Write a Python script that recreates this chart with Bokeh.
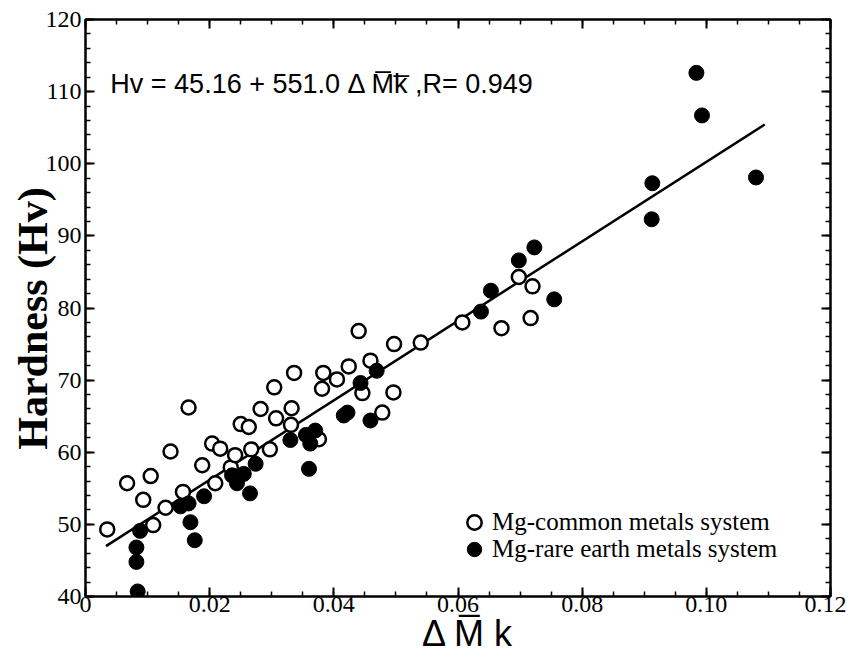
from bokeh.plotting import figure
from bokeh.models import (LinearAxis, SingleIntervalTicker, CustomJSTickFormatter,
                          Label, Legend, LegendItem, Range1d)
from bokeh.embed import file_html
from bokeh.resources import INLINE

# Mg-common metals system (open circles)
common_dmk = [0.0035, 0.0067, 0.0093, 0.0105, 0.0109, 0.0129, 0.0137, 0.0157, 0.0166,
              0.0188, 0.0204, 0.0209, 0.0217, 0.0234, 0.0241, 0.0250, 0.0263, 0.0267,
              0.0282, 0.0297, 0.0304, 0.0307, 0.0332, 0.0331, 0.0336, 0.0376, 0.0381,
              0.0383, 0.0405, 0.0424, 0.0440, 0.0446, 0.0459, 0.0478, 0.0496, 0.0497,
              0.0540, 0.0607, 0.0670, 0.0698, 0.0717, 0.0720]
common_hv = [49.3, 55.7, 53.4, 56.7, 49.9, 52.3, 60.1, 54.5, 66.2,
             58.2, 61.2, 55.7, 60.5, 57.9, 59.6, 63.9, 63.5, 60.4,
             66.0, 60.4, 69.0, 64.7, 66.1, 63.8, 71.0, 61.8, 68.8,
             71.0, 70.1, 71.9, 76.8, 68.2, 72.7, 65.5, 68.3, 75.0,
             75.2, 78.0, 77.2, 84.3, 78.6, 83.0]

# Mg-rare earth metals system (filled circles)
rare_dmk = [0.0082, 0.0082, 0.0084, 0.0088, 0.0153, 0.0166, 0.0169, 0.0176, 0.0191,
            0.0236, 0.0244, 0.0255, 0.0265, 0.0274, 0.0330, 0.0355, 0.0362, 0.0370,
            0.0360, 0.0416, 0.0422, 0.0443, 0.0459, 0.0469, 0.0637, 0.0653, 0.0698,
            0.0723, 0.0755, 0.0912, 0.0913, 0.0984, 0.0993, 0.1080]
rare_hv = [46.8, 44.8, 40.7, 49.1, 52.5, 52.9, 50.3, 47.8, 53.9,
           56.8, 55.7, 57.0, 54.3, 58.4, 61.7, 62.4, 61.2, 63.0,
           57.7, 65.1, 65.5, 69.6, 64.4, 71.3, 79.5, 82.4, 86.6,
           88.4, 81.2, 92.3, 97.3, 112.6, 106.7, 98.1]

# regression line Hv = 45.16 + 551.0 * dMk
fit_intercept = 45.16
fit_slope = 551.0
fit_dmk = [0.0033, 0.1094]
fit_hv = [fit_intercept + fit_slope * v for v in fit_dmk]

SERIF = "Liberation Serif"
SANS = "Liberation Sans"

p = figure(width=846, height=657, output_backend="svg", toolbar_location=None,
           x_range=Range1d(0, 0.12), y_range=Range1d(40, 120),
           min_border_left=85, min_border_right=16, min_border_top=19,
           min_border_bottom=61)
p.xgrid.visible = False
p.ygrid.visible = False
p.outline_line_color = "black"
p.outline_line_width = 2
p.background_fill_color = "white"
p.border_fill_color = "white"

xfmt = CustomJSTickFormatter(code="return tick < 1e-9 ? '0' : tick.toFixed(2);")
blank = CustomJSTickFormatter(code="return '';")


def style_axis(ax):
    ax.axis_line_color = "black"
    ax.axis_line_width = 2
    ax.major_tick_in = 9
    ax.major_tick_out = 0
    ax.minor_tick_in = 5
    ax.minor_tick_out = 0
    ax.major_tick_line_width = 2
    ax.minor_tick_line_width = 1.5
    ax.major_tick_line_color = "black"
    ax.minor_tick_line_color = "black"
    ax.major_label_text_font = SERIF
    ax.major_label_text_font_size = "24px"
    ax.major_label_text_color = "black"
    ax.axis_label_text_color = "black"


xa = p.xaxis[0]
xa.ticker = SingleIntervalTicker(interval=0.02, num_minor_ticks=4)
xa.formatter = xfmt
style_axis(xa)
xa.major_label_standoff = 0
xa.major_label_text_line_height = 0.9
xa.axis_label = "\u00a0\u00a0\u0394 M\u0305 k"
xa.axis_label_text_font = SANS
xa.axis_label_text_font_size = "36px"
xa.axis_label_text_font_style = "normal"
xa.axis_label_text_line_height = 0.9
xa.axis_label_standoff = -2

ya = p.yaxis[0]
ya.ticker = SingleIntervalTicker(interval=10, num_minor_ticks=5)
style_axis(ya)
ya.major_label_standoff = 4
ya.axis_label = "Hardness (Hv)\u00a0\u00a0"
ya.axis_label_text_font = SERIF
ya.axis_label_text_font_size = "42px"
ya.axis_label_text_font_style = "bold"
ya.axis_label_text_line_height = 0.9
ya.axis_label_standoff = -13

top = LinearAxis(ticker=SingleIntervalTicker(interval=0.02, num_minor_ticks=4),
                 formatter=blank)
style_axis(top)
top.major_label_standoff = 0
p.add_layout(top, "above")

right = LinearAxis(ticker=SingleIntervalTicker(interval=10, num_minor_ticks=5),
                   formatter=blank)
style_axis(right)
right.major_label_standoff = 0
p.add_layout(right, "right")

p.line(fit_dmk, fit_hv, line_color="black", line_width=2.5)
r_common = p.scatter(common_dmk, common_hv, marker="circle", size=14,
                     fill_color="white", line_color="black", line_width=2.5)
r_rare = p.scatter(rare_dmk, rare_hv, marker="circle", size=15,
                   fill_color="black", line_color="black", line_width=1)


def make_legend(label, renderer, loc):
    lg = Legend(items=[LegendItem(label=label, renderers=[renderer])], location=loc)
    lg.border_line_color = None
    lg.background_fill_alpha = 0
    lg.label_text_font = SERIF
    lg.label_text_font_size = "25px"
    lg.label_text_color = "black"
    lg.glyph_width = 36
    lg.glyph_height = 36
    lg.label_standoff = 0
    lg.spacing = 0
    lg.padding = 0
    lg.margin = 0
    return lg


p.add_layout(make_legend("Mg-common metals system", r_common, (371, 56)))
p.add_layout(make_legend("Mg-rare earth metals system", r_rare, (371, 29)))

eq = Label(x=0.004, y=111, text="Hv = 45.16 + 551.0 \u0394 M\u0305k\u0305 ,R= 0.949",
           text_font=SANS, text_font_size="27px", text_baseline="middle",
           text_color="black")
p.add_layout(eq)

open("out.html", "w").write(file_html(p, INLINE))
